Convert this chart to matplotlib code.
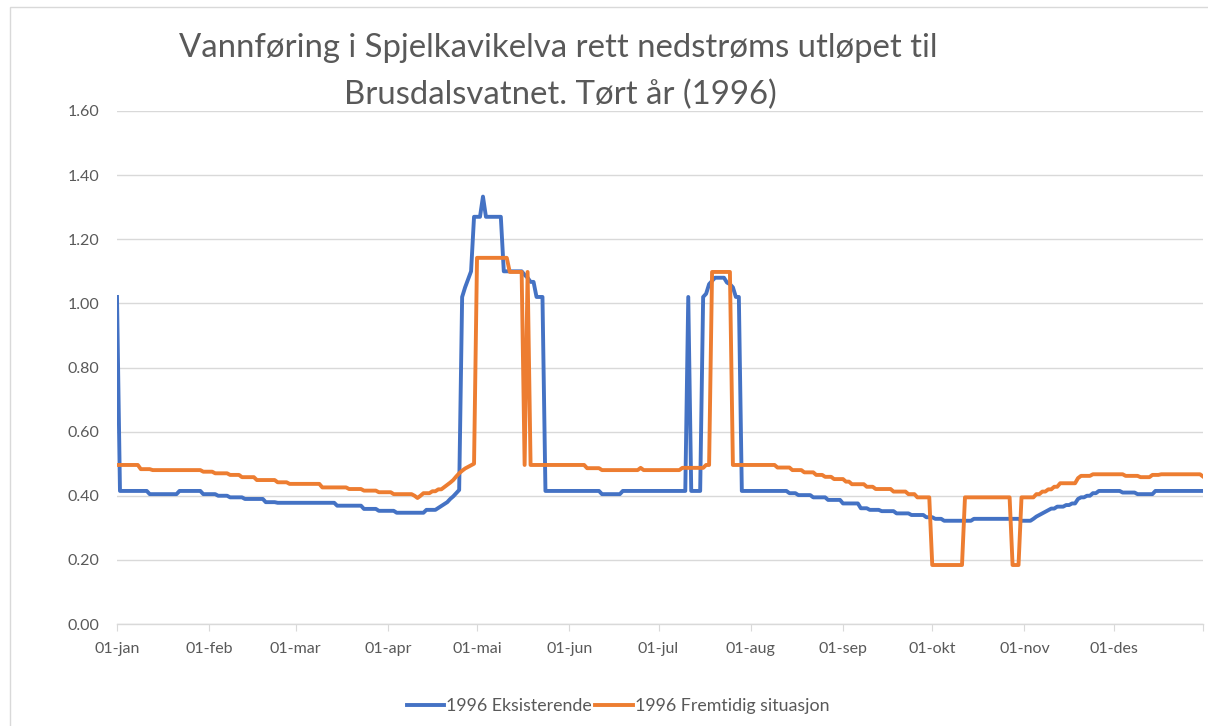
import numpy as np
import matplotlib
matplotlib.use("Agg")
import matplotlib.pyplot as plt
from matplotlib import font_manager as fm
from matplotlib.lines import Line2D
from matplotlib.patches import Rectangle

names = {f.name for f in fm.fontManager.ttflist}
FONT = "Lato" if "Lato" in names else "Open Sans"

# ---- data (daily values 1996, run-length encoded: value, number of days) ----
blue_vals = [1.02, 0.415, 0.405, 0.415, 0.405, 0.40, 0.395, 0.39, 0.38, 0.378, 0.369, 0.359, 0.353, 0.347,
             0.356, 0.362, 0.368, 0.374, 0.38, 0.39, 0.398, 0.408, 0.418, 1.02, 1.05, 1.075, 1.10,
             1.27, 1.333, 1.27, 1.10, 1.089, 1.08, 1.067, 1.02, 0.415, 0.405, 0.415, 1.02, 0.415,
             1.02, 1.03, 1.06, 1.07, 1.08, 1.065, 1.06, 1.05, 1.02, 0.415, 0.408, 0.402, 0.395, 0.387,
             0.376, 0.361, 0.356, 0.352, 0.345, 0.34, 0.333, 0.328, 0.322, 0.328, 0.322, 0.328, 0.335,
             0.34, 0.345, 0.35, 0.355, 0.36, 0.366, 0.371, 0.376, 0.39, 0.395, 0.40, 0.408, 0.415,
             0.41, 0.405, 0.415]
blue_runs = [1, 10, 10, 8, 5, 4, 5, 7, 4, 20, 9, 5, 6, 10,
             4, 1, 1, 1, 1, 1, 1, 1, 1, 1, 1, 1, 1,
             3, 1, 6, 7, 1, 1, 2, 3, 19, 7, 22, 1, 4,
             1, 1, 1, 1, 4, 1, 1, 1, 2, 16, 3, 5, 5, 5,
             6, 3, 4, 5, 5, 5, 3, 3, 10, 16, 4, 1, 1,
             1, 1, 1, 1, 2, 3, 2, 2, 1, 2, 2, 2, 8,
             5, 6, 17]

orange_vals = [0.496, 0.483, 0.48, 0.475, 0.47, 0.465, 0.458, 0.449, 0.442, 0.437, 0.426, 0.421, 0.416,
               0.411, 0.405, 0.40, 0.393, 0.40, 0.408, 0.414, 0.42, 0.427, 0.434, 0.441, 0.449, 0.46,
               0.47, 0.478, 0.485, 0.49, 0.495, 0.50, 1.142, 1.098, 0.496, 1.098, 0.496, 0.486, 0.48,
               0.487, 0.48, 0.487, 0.496, 1.098, 0.496, 0.488, 0.48, 0.473, 0.465, 0.459, 0.452, 0.444,
               0.436, 0.428, 0.421, 0.413, 0.405, 0.395, 0.184, 0.395, 0.184, 0.395, 0.405, 0.413, 0.42,
               0.428, 0.439, 0.455, 0.462, 0.467, 0.462, 0.458, 0.465, 0.467, 0.46]
orange_runs = [8, 4, 17, 4, 5, 4, 5, 7, 4, 11, 9, 5, 5,
               5, 7, 1, 1, 1, 3, 2, 2, 1, 1, 1, 1, 1,
               1, 1, 1, 1, 1, 1, 11, 5, 1, 1, 19, 5, 13,
               1, 13, 8, 2, 7, 15, 5, 4, 4, 3, 3, 4, 2,
               5, 3, 6, 5, 3, 5, 11, 16, 3, 5, 2, 2, 2,
               2, 6, 1, 4, 11, 5, 4, 3, 14, 1]

month_starts = [0, 31, 60, 91, 121, 152, 182, 213, 244, 274, 305, 335, 365]
month_labels = ["01-jan", "01-feb", "01-mar", "01-apr", "01-mai", "01-jun", "01-jul",
                "01-aug", "01-sep", "01-okt", "01-nov", "01-des", ""]
y_ticks = [0.0, 0.2, 0.4, 0.6, 0.8, 1.0, 1.2, 1.4, 1.6]

series_names = ["1996 Eksisterende", "1996 Fremtidig situasjon"]
title_lines = ["Vannføring i Spjelkavikelva rett nedstrøms utløpet til", "Brusdalsvatnet. Tørt år (1996)"]

blue = np.repeat(blue_vals, blue_runs)
orange = np.repeat(orange_vals, orange_runs)
days = np.arange(len(blue))

BLUE = "#4472C4"
ORANGE = "#ED7D31"
GREY = "#595959"
GRID = "#D9D9D9"

fig = plt.figure(figsize=(12.08, 7.26), dpi=100)
fig.patches.append(Rectangle((10 / 1208, -0.01), 1.1, 1.0, transform=fig.transFigure,
                             fill=False, edgecolor=GRID, linewidth=1.0))
ax = fig.add_axes([117 / 1208, 1 - 624 / 726, (1203 - 117) / 1208, (624 - 111) / 726])

ax.plot(days, blue, color=BLUE, lw=2.8, solid_joinstyle="round", zorder=2)
ax.plot(days, orange, color=ORANGE, lw=2.8, solid_joinstyle="round", zorder=3)

ax.set_xlim(0, 365)
ax.set_ylim(0, 1.6)
ax.set_yticks(y_ticks)
ax.set_yticklabels([f"{v:.2f}" for v in y_ticks], fontfamily=FONT, fontsize=11.5, color=GREY)
ax.set_xticks(month_starts)
ax.set_xticklabels(month_labels, fontfamily=FONT, fontsize=11.5, color=GREY)
ax.tick_params(axis="y", length=0, pad=13)
ax.tick_params(axis="x", length=5, color=GRID, pad=8)
ax.grid(axis="y", color=GRID, lw=1.0, zorder=0)
ax.set_axisbelow(True)
for s in ["top", "right", "left"]:
    ax.spines[s].set_visible(False)
ax.spines["bottom"].set_color(GRID)
ax.spines["bottom"].set_linewidth(1.0)

fig.text(558 / 1208, 1 - 48 / 726, title_lines[0], ha="center", va="center",
         fontsize=23.7, color=GREY, fontfamily=FONT)
fig.text(560 / 1208, 1 - 95 / 726, title_lines[1], ha="center", va="center",
         fontsize=23.7, color=GREY, fontfamily=FONT)

handles = [Line2D([], [], color=BLUE, lw=2.8), Line2D([], [], color=ORANGE, lw=2.8)]
fig.legend(handles, series_names, loc="center", bbox_to_anchor=(618 / 1208, 1 - 706 / 726),
           ncol=2, frameon=False, handlelength=2.1, handletextpad=0.1, columnspacing=0.2,
           prop={"family": FONT, "size": 12.8}, labelcolor=GREY)

fig.savefig("out.png", dpi=100)
